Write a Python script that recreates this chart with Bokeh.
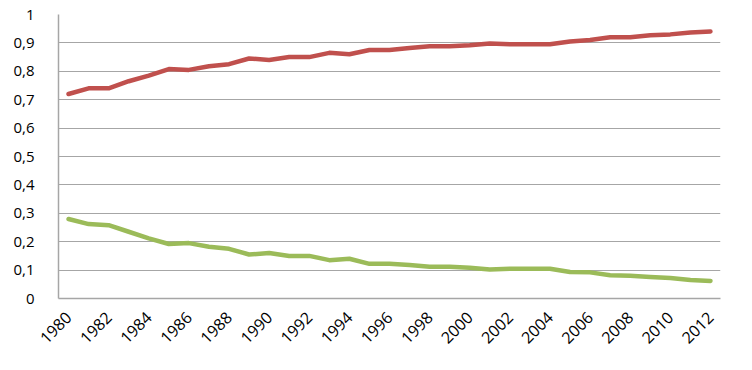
import math
from bokeh.plotting import figure
from bokeh.models import Range1d, FixedTicker, CustomJSTickFormatter
from bokeh.embed import file_html
from bokeh.resources import INLINE

years = list(range(1980, 2013))
red_series = [0.72, 0.74, 0.74, 0.765, 0.785, 0.808, 0.805, 0.818, 0.825, 0.845, 0.84,
              0.85, 0.85, 0.865, 0.86, 0.875, 0.875, 0.882, 0.888, 0.888, 0.892, 0.898,
              0.895, 0.895, 0.895, 0.905, 0.91, 0.92, 0.92, 0.927, 0.93, 0.937, 0.94]
green_series = [0.28, 0.262, 0.258, 0.235, 0.212, 0.192, 0.195, 0.182, 0.175, 0.155, 0.16,
                0.15, 0.15, 0.135, 0.14, 0.122, 0.122, 0.118, 0.112, 0.112, 0.108, 0.102,
                0.105, 0.105, 0.105, 0.093, 0.092, 0.082, 0.08, 0.076, 0.072, 0.065, 0.062]
x_ticks = list(range(1980, 2013, 2))
y_ticks = [0, 0.1, 0.2, 0.3, 0.4, 0.5, 0.6, 0.7, 0.8, 0.9, 1]

p = figure(width=744, height=362, output_backend="svg", toolbar_location=None,
           x_range=Range1d(1979.5, 2012.5), y_range=Range1d(0, 1),
           min_border_left=58, min_border_right=24, min_border_top=14, min_border_bottom=64)
p.outline_line_color = None
p.background_fill_color = "white"

p.line(years, red_series, line_color="#C0504D", line_width=4.5, line_cap="round", line_join="round")
p.line(years, green_series, line_color="#9BBB59", line_width=4.5, line_cap="round", line_join="round")

p.xgrid.grid_line_color = None
p.ygrid.grid_line_color = "#A6A6A6"
p.ygrid.grid_line_width = 1.2
p.ygrid.ticker = FixedTicker(ticks=y_ticks)

p.yaxis.ticker = FixedTicker(ticks=y_ticks)
p.yaxis.formatter = CustomJSTickFormatter(code="""
if (Math.abs(tick - Math.round(tick)) < 1e-9) return Math.round(tick).toString();
return tick.toFixed(1).replace('.', ',');
""")
p.xaxis.ticker = FixedTicker(ticks=x_ticks)

for ax in (p.xaxis[0], p.yaxis[0]):
    ax.axis_line_color = "#A6A6A6"
    ax.axis_line_width = 1.5
    ax.major_tick_line_color = None
    ax.minor_tick_line_color = None
    ax.major_label_text_font = "Open Sans"
    ax.major_label_text_color = "#000000"

p.yaxis.major_label_text_font_size = "15px"
p.xaxis.major_label_text_font_size = "16px"
p.yaxis.major_label_standoff = 18
p.xaxis.major_label_orientation = math.pi / 4
p.xaxis.major_label_standoff = 10

open("out.html", "w").write(file_html(p, INLINE))
